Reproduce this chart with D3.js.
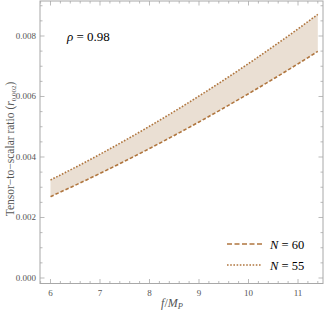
<!DOCTYPE html>
<html><head><meta charset="utf-8">
<script src="https://cdn.jsdelivr.net/npm/d3@7"></script>
<style>body{margin:0;background:#fff}svg{display:block}</style>
</head><body>
<script>
const fValues = [6, 6.5, 7, 7.5, 8, 8.5, 9, 9.5, 10, 10.5, 11, 11.4];
const rN60 = [0.00269, 0.003067, 0.003458, 0.003862, 0.00428, 0.004713, 0.005158, 0.005618, 0.006092, 0.006579, 0.00708, 0.007491];
const rN55 = [0.00324, 0.003656, 0.004091, 0.004544, 0.005016, 0.005506, 0.006015, 0.006542, 0.007088, 0.007652, 0.008235, 0.008715];
const xTicks = [6, 7, 8, 9, 10, 11];
const yTicks = [0, 0.002, 0.004, 0.006, 0.008];
const yTickLabels = ["0.000", "0.002", "0.004", "0.006", "0.008"];
const seriesNames = ["N = 60", "N = 55"];
const rhoLabel = ["ρ", " = 0.98"];

const W = 325, H = 315;
const L = 40, R = 323, T = 1, B = 283.5;
const x = d3.scaleLinear().domain([5.788, 11.505]).range([L, R]);
const y = d3.scaleLinear().domain([-0.000182, 0.009157]).range([B, T]);

const svg = d3.select("body").append("svg").attr("width", W).attr("height", H);
const serif = "'Liberation Serif','DejaVu Serif',serif";
const lineCol = "#b0763f";
const frameCol = "#a8a8a8";
const textCol = "#555";

// band
const data = fValues.map((f, i) => ({f, lo: rN60[i], hi: rN55[i]}));
svg.append("path").datum(data)
  .attr("d", d3.area().x(d => x(d.f)).y0(d => y(d.lo)).y1(d => y(d.hi)).curve(d3.curveMonotoneX))
  .attr("fill", "#eadfd3").attr("stroke", "none");

svg.append("path").datum(data)
  .attr("d", d3.line().x(d => x(d.f)).y(d => y(d.lo)).curve(d3.curveMonotoneX))
  .attr("fill", "none").attr("stroke", lineCol).attr("stroke-width", 1.6).attr("stroke-dasharray", "3.5,2");
svg.append("path").datum(data)
  .attr("d", d3.line().x(d => x(d.f)).y(d => y(d.hi)).curve(d3.curveMonotoneX))
  .attr("fill", "none").attr("stroke", lineCol).attr("stroke-width", 1.6).attr("stroke-dasharray", "1.6,1.6");

// frame
svg.append("rect").attr("x", L).attr("y", T).attr("width", R - L).attr("height", B - T)
  .attr("fill", "none").attr("stroke", frameCol).attr("stroke-width", 1);

// ticks
const xMinor = d3.range(5.8, 11.51, 0.2);
const g = svg.append("g").attr("stroke", frameCol).attr("stroke-width", 0.8);
xMinor.forEach(v => {
  const isMajor = Math.abs(v - Math.round(v)) < 1e-6;
  const len = isMajor ? 4.5 : 2.5;
  g.append("line").attr("x1", x(v)).attr("x2", x(v)).attr("y1", B).attr("y2", B - len);
  g.append("line").attr("x1", x(v)).attr("x2", x(v)).attr("y1", T).attr("y2", T + len);
});
const yMinor = d3.range(0, 0.00916, 0.0005);
yMinor.forEach((v, i) => {
  const isMajor = i % 4 === 0;
  const len = isMajor ? 4.5 : 2.5;
  g.append("line").attr("y1", y(v)).attr("y2", y(v)).attr("x1", L).attr("x2", L + len);
  g.append("line").attr("y1", y(v)).attr("y2", y(v)).attr("x1", R).attr("x2", R - len);
});

// tick labels
svg.selectAll(".xt").data(xTicks).enter().append("text")
  .attr("x", d => x(d)).attr("y", B + 12).attr("text-anchor", "middle")
  .attr("font-family", serif).attr("font-size", 9).attr("fill", textCol).text(d => d);
svg.selectAll(".yt").data(yTicks).enter().append("text")
  .attr("x", L - 4).attr("y", d => y(d) + 3).attr("text-anchor", "end")
  .attr("font-family", serif).attr("font-size", 9).attr("fill", textCol).text((d, i) => yTickLabels[i]);

// axis labels
const xl = svg.append("text").attr("x", 172).attr("y", 307).attr("text-anchor", "middle")
  .attr("font-family", serif).attr("font-size", 12).attr("fill", textCol);
xl.append("tspan").attr("font-style", "italic").text("f");
xl.append("tspan").text("/");
xl.append("tspan").attr("font-style", "italic").text("M");
xl.append("tspan").attr("font-style", "italic").attr("font-size", 8.5).attr("dy", 2).text("P");

const yl = svg.append("text").attr("transform", "translate(14,149) rotate(-90)").attr("text-anchor", "middle")
  .attr("font-family", serif).attr("font-size", 11.5).attr("fill", textCol);
yl.append("tspan").text("Tensor\u2212to\u2212scalar ratio (");
yl.append("tspan").attr("font-style", "italic").text("r");
yl.append("tspan").attr("font-size", 7).attr("dy", 2).text("0.002");
yl.append("tspan").attr("dy", -2).text(")");

// rho label
const rt = svg.append("text").attr("x", 67).attr("y", 41).attr("font-family", serif).attr("font-size", 13).attr("fill", "#000");
rt.append("tspan").attr("font-style", "italic").text(rhoLabel[0]);
rt.append("tspan").text(rhoLabel[1]);

// legend
const legY = [244, 265];
const dashes = ["5,2.5", "1.6,1.6"];
seriesNames.forEach((nm, i) => {
  svg.append("line").attr("x1", 227).attr("x2", 262).attr("y1", legY[i]).attr("y2", legY[i])
    .attr("stroke", lineCol).attr("stroke-width", 1.6).attr("stroke-dasharray", dashes[i]);
  const t = svg.append("text").attr("x", 270).attr("y", legY[i] + 4.5)
    .attr("font-family", serif).attr("font-size", 12.5).attr("fill", "#000");
  const parts = nm.split(" = ");
  t.append("tspan").attr("font-style", "italic").text(parts[0]);
  t.append("tspan").text(" = " + parts[1]);
});
</script>
</body></html>
